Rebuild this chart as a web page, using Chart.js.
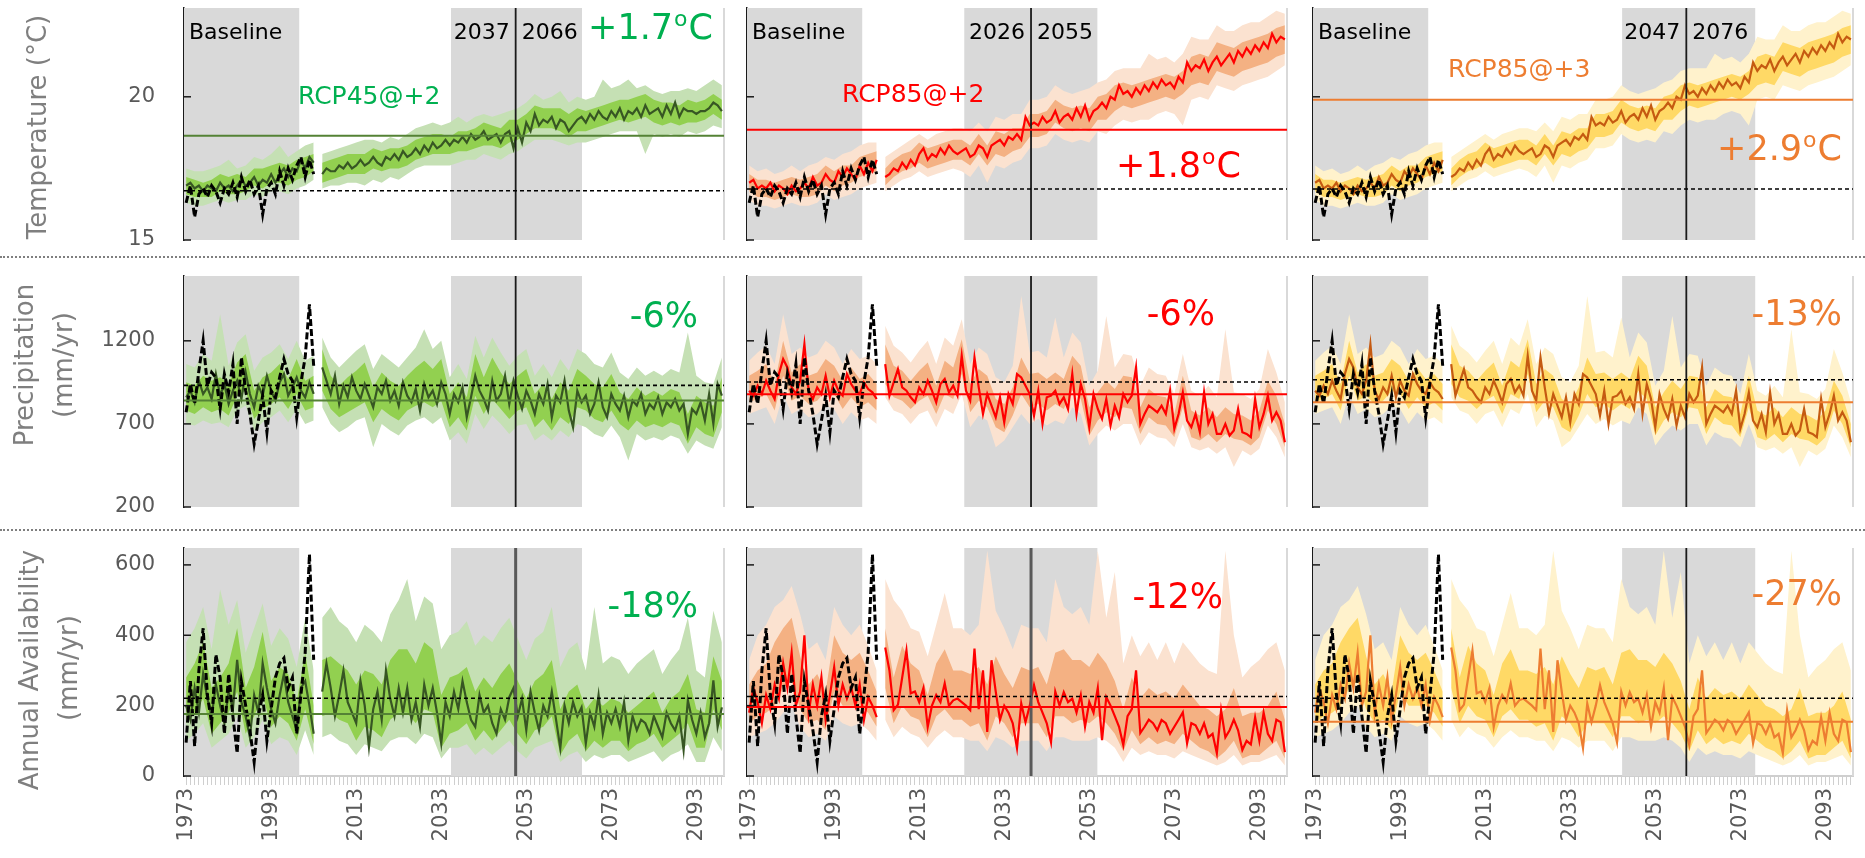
<!DOCTYPE html>
<html>
<head>
<meta charset="utf-8">
<script src="https://cdn.jsdelivr.net/npm/chart.js@4.4.1/dist/chart.umd.min.js"></script>
<style>
  body { margin: 0; background: #fff; }
  #page { position: relative; width: 1865px; height: 858px; overflow: hidden; background: #fff; }
  #page canvas { position: absolute; }
  .sep { position: absolute; left: 0; width: 1865px; height: 0; border-top: 2px dotted #7f7f7f; }
</style>
</head>
<body>
<div id="page">
  <div class="sep" style="top:256px"></div>
  <div class="sep" style="top:529px"></div>
</div>
<script>
// --- Years ---
function range(a, b, step) {
    let out = [];
    for (let v = a; v <= b; v += step) out.push(v);
    return out;
}
const obsYears = range(1973, 2003, 1);
const modelYears = range(1973, 2003, 1).concat(range(2005, 2099, 1));
const bandYears = range(1973, 2099, 2);
const axisYears = range(1973, 2099, 1);
const labelYears = [1973, 1993, 2013, 2033, 2053, 2073, 2093];

// --- Tick labels ---
const tmpTicks = [15, 20];
const prcTicks = [200, 700, 1200];
const avlTicks = [0, 200, 400, 600];

// --- Temperature (oC) ---
const tmpObs = [16.3,16.9,15.8,16.6,16.8,16.5,16.9,16.7,16.3,16.8,16.6,17.0,16.5,17.2,16.7,17.1,16.6,16.9,15.9,16.8,17.0,16.6,17.4,16.9,17.5,17.1,17.6,17.9,17.2,17.8,17.3];
const tmp45Med = [16.9,17.0,16.8,16.9,16.7,16.9,16.8,16.7,17.0,16.8,16.9,16.7,16.9,17.1,16.9,17.0,17.2,16.9,17.1,17.0,17.3,17.0,17.3,17.5,17.2,17.5,17.4,17.8,17.5,17.9,17.7,
    17.3,17.5,17.4,17.4,17.6,17.5,17.7,17.5,17.6,17.8, 17.6,17.7,17.9,17.7,17.6,17.9,17.8,18.0,17.8,18.1,
    17.9,18.0,18.2,18.0,18.3,18.1,18.4,18.2,18.3,18.5, 18.3,18.5,18.4,18.6,18.4,18.7,18.5,18.6,18.8,18.5,
    18.6,18.7,18.4,18.7,18.8,18.2,18.9,18.4,19.1,18.8, 19.4,19.0,19.2,19.1,19.3,18.9,19.2,19.1,18.8,19.0,
    19.2,19.3,19.1,19.4,19.2,19.5,19.3,19.2,19.5,19.3, 19.6,19.2,19.5,19.4,19.6,19.3,19.7,19.4,19.5,19.6,
    19.3,19.7,19.4,19.8,19.3,19.6,19.5,19.5,19.4,19.5, 19.5,19.6,19.8,19.7,19.5];
const tmp45InLo = [16.6,16.5,16.5,16.5,16.7,16.6,16.6,16.7,16.9,16.8,17.0,17.0,16.9,17.1,17.2,17.4,
    17.0,17.1,17.2,17.3,17.3,17.3,17.5,17.4,17.5,17.5,17.6,17.8,17.9,18.0,18.0,18.0,18.1,18.1,18.2,18.3,18.3,18.2,18.4,18.5,
    18.7,18.9,18.9,18.9,18.8,18.6,18.8,18.8,18.9,19.0,19.1,19.2,19.1,19.2,19.3,19.1,19.0,19.1,19.0,19.1,19.1,19.2,19.4,19.2];
const tmp45InHi = [17.2,17.1,17.0,17.1,17.3,17.2,17.3,17.2,17.5,17.5,17.6,17.7,17.6,17.8,17.9,18.0,
    17.7,17.8,17.9,18.0,18.0,18.0,18.2,18.1,18.2,18.2,18.3,18.5,18.6,18.7,18.7,18.6,18.8,18.8,18.9,19.1,19.0,18.9,19.2,19.2,
    19.4,19.7,19.6,19.6,19.6,19.4,19.6,19.5,19.6,19.7,19.8,19.9,19.9,20.0,20.1,19.9,19.8,19.8,19.7,19.9,19.8,19.9,20.1,19.9];
const tmp45OutLo = [16.3,16.2,16.2,16.3,16.4,16.3,16.4,16.4,16.6,16.5,16.7,16.7,16.6,16.8,16.9,17.1,
    16.8,16.9,16.9,17.0,17.0,16.9,17.1,17.0,17.2,17.1,17.3,17.5,17.6,17.6,17.6,17.6,17.7,17.8,17.8,18.0,17.9,17.8,18.0,18.1,
    18.3,18.5,18.5,18.5,18.4,18.3,18.4,18.4,18.5,18.6,18.7,18.8,18.8,18.8,18.0,18.7,18.6,18.7,18.6,18.8,18.7,18.8,19.0,18.9];
const tmp45OutHi = [17.5,17.4,17.4,17.5,17.6,17.8,17.5,17.6,17.9,17.8,18.0,18.3,17.9,18.1,18.3,18.4,
    18.0,18.1,18.2,18.3,18.4,18.5,18.5,18.4,18.6,18.5,18.7,18.9,19.0,19.1,19.0,19.1,19.3,19.1,19.3,19.4,19.3,19.4,19.5,19.6,
    19.8,20.1,19.9,20.0,20.2,19.8,20.0,19.9,20.0,20.6,20.3,20.4,20.6,20.3,20.4,20.2,20.1,20.2,20.2,20.3,20.2,20.4,20.6,20.4];
const tmp85Med = [17.0,17.1,16.8,16.9,16.8,17.0,16.7,16.9,16.8,16.6,16.9,16.7,16.8,17.0,16.8,17.2,16.9,17.0,17.3,17.1,17.0,17.4,17.2,17.5,17.3,17.1,17.6,17.3,17.7,17.4,17.8,
    17.2,17.3,17.5,17.4,17.7,17.5,17.8,17.6,18.0,18.2, 17.8,18.0,17.9,18.2,18.0,18.3,18.1,18.0,18.1,18.2,
    17.9,18.0,18.3,18.2,17.9,18.3,18.4,18.5,18.3,18.6, 18.5,18.7,18.5,19.3,19.0,19.1,19.0,19.3,19.1,19.2,
    19.5,19.1,19.3,19.4,19.2,19.6,19.3,19.7,19.2,19.5, 19.6,19.8,19.6,20.0,19.9,20.4,20.1,20.2,20.0,20.3,
    20.1,20.4,20.2,20.5,20.3,20.6,20.4,20.5,20.3,20.7, 20.5,21.2,20.9,21.1,21.0,21.3,20.9,21.2,21.4,21.1,
    21.3,21.5,21.2,21.6,21.4,21.7,21.5,21.8,21.6,21.9, 21.7,22.2,21.9,22.1,22.0];
const tmp85InLo = [16.7,16.5,16.5,16.4,16.5,16.6,16.5,16.5,16.6,16.9,16.7,16.9,17.0,17.2,17.3,17.4,
    16.9,17.2,17.4,17.5,17.7,17.5,17.6,17.7,17.8,17.8,17.6,18.0,17.6,18.0,17.9,18.1,18.2,18.6,18.6,18.7,19.1,18.9,18.8,18.9,
    18.8,19.2,19.2,19.5,19.7,19.6,19.7,19.8,19.9,20.0,19.9,20.1,20.4,20.5,20.4,20.9,20.8,20.7,20.9,21.0,21.1,21.2,21.4,21.5];
const tmp85InHi = [17.3,17.1,17.1,17.0,17.1,17.2,17.1,17.2,17.3,17.6,17.4,17.6,17.6,17.9,18.0,18.1,
    17.5,17.8,18.0,18.1,18.4,18.2,18.3,18.4,18.5,18.5,18.3,18.7,18.3,18.8,18.7,18.9,18.9,19.4,19.4,19.5,19.9,19.7,19.6,19.7,
    19.6,20.0,20.1,20.4,20.5,20.4,20.5,20.6,20.7,20.8,20.7,20.9,21.4,21.5,21.4,21.9,21.8,21.7,21.9,22.0,22.1,22.2,22.4,22.5];
const tmp85OutLo = [16.4,16.2,16.2,16.1,16.2,16.3,16.2,16.2,16.3,16.6,16.4,16.5,16.6,16.8,16.9,17.0,
    16.7,16.9,17.1,17.2,17.4,17.2,17.3,17.4,17.5,17.4,17.2,17.6,17.0,17.6,17.5,17.7,17.8,18.2,18.2,18.3,18.7,18.5,18.4,18.5,
    18.4,18.8,18.7,19.0,19.2,19.1,19.2,19.2,19.4,19.5,19.4,19.0,19.9,20.0,19.9,20.4,20.3,20.2,20.4,20.5,20.6,20.7,20.9,21.1];
const tmp85OutHi = [17.6,17.4,17.5,17.3,17.4,17.6,17.4,17.6,17.7,17.9,17.8,18.0,18.1,18.3,18.4,18.4,
    17.9,18.1,18.3,18.5,18.7,18.5,18.7,18.8,18.9,18.9,18.8,19.1,18.8,19.3,19.2,19.4,19.4,19.9,19.9,20.0,20.4,20.2,20.1,20.2,
    20.3,20.5,20.6,20.9,21.0,21.0,21.0,21.5,21.3,21.4,21.2,21.5,22.1,22.0,22.0,22.5,22.3,22.3,22.5,22.6,22.6,22.8,23.0,22.9];

// --- Precipitation (mm/yr) ---
const prcObs = [770,940,820,1020,1200,930,1010,980,790,1000,890,1060,700,1100,900,760,580,720,870,650,900,860,980,1090,1000,960,740,950,1100,1420,1050];
const prc45Med = [860,900,830,960,880,920,850,1000,870,940,820,900,960,850,1010,880,800,930,870,990,900,840,950,1000,870,920,980,900,860,950,880,
    1040,960,880,990,820,930,860,980,900,850, 940,870,800,920,880,960,840,900,810,950,
    870,830,910,780,940,860,900,820,950,880, 760,880,830,920,740,860,990,900,850,780,
    960,840,880,990,820,960,870,790,900,840, 760,880,820,940,740,870,830,960,780,680,
    900,830,870,760,820,950,800,740,880,820, 780,870,740,840,810,880,760,820,790,860,
    760,830,800,850,780,820,640,790,760,830, 720,880,700,940,870];
const prc45InLo = [780,760,800,770,790,750,870,900,730,790,820,860,790,880,780,800,
    900,790,740,770,800,830,710,790,750,720,780,810,830,800,840,680,740,660,870,760,850,790,730,780,
    800,680,730,660,740,700,800,780,730,710,780,700,660,720,680,700,680,710,690,580,680,640,620,770];
const prc45InHi = [950,930,990,960,980,940,1070,1120,900,980,1010,1060,970,1090,960,990,
    1150,990,930,980,1020,1070,920,1010,960,930,990,1040,1080,1030,1090,880,950,860,1120,980,1100,1010,940,990,
    1030,880,940,850,950,900,1030,990,940,920,1000,890,850,920,870,900,870,910,890,760,870,830,810,980];
const prc45OutLo = [700,690,720,700,710,680,780,810,660,710,740,780,710,790,700,720,
    800,700,650,680,720,740,560,700,660,630,690,720,740,700,740,600,650,580,760,670,750,700,640,690,
    700,600,640,600,660,620,700,680,640,620,690,620,480,640,600,620,600,630,610,520,600,570,550,680];
const prc45OutHi = [1060,1040,1120,1080,1360,1050,1190,1240,1020,1100,1130,1180,1090,1200,1080,1110,
    1220,1100,1040,1090,1140,1180,1030,1120,1080,1040,1100,1160,1270,1150,1200,980,1060,970,1230,1100,1220,1130,1050,1110,
    1150,990,1060,980,1090,1020,1150,1120,1060,1040,1130,1010,970,1040,990,1020,990,1030,1010,1250,990,950,940,1100];
const prc85Med = [900,870,930,880,960,900,850,1000,1090,1040,920,880,960,1180,900,850,920,880,990,860,960,900,870,1000,940,900,880,950,910,890,850,
    1060,870,950,1030,920,900,860,830,920,880, 960,900,830,940,970,890,930,870,1110,900,
    840,1100,920,760,880,810,740,860,710,880, 820,1000,980,930,880,750,900,700,860,870,
    900,820,860,790,1000,760,940,850,680,880, 790,730,850,690,810,740,880,830,870,1040,
    700,760,810,790,770,810,760,900,670,760, 890,720,680,760,650,890,700,760,640,640,
    700,630,660,790,650,640,620,850,680,760, 870,720,770,720,590];
const prc85InLo = [830,850,880,780,990,840,870,820,840,900,880,790,860,800,830,780,
    940,860,840,790,840,870,760,880,850,1000,770,840,800,680,650,750,880,800,820,780,820,790,900,850,
    630,720,770,740,800,790,640,740,700,690,620,800,620,600,640,590,640,610,600,570,620,780,700,560];
const prc85InHi = [990,1020,1060,940,1200,1010,1060,990,1010,1090,1050,960,1040,970,1000,940,
    1180,1050,1020,960,1020,1070,930,1080,1040,1210,940,1030,990,850,820,920,1100,1000,1010,970,1010,970,1110,1050,
    800,890,960,910,990,980,800,910,870,860,760,990,780,750,800,740,800,760,750,720,780,960,870,700];
const prc85OutLo = [760,780,800,700,880,760,790,740,760,810,790,700,770,720,740,700,
    860,780,760,700,760,780,680,790,760,880,680,750,720,560,600,680,760,700,730,690,720,700,800,760,
    570,640,690,660,700,700,570,650,620,610,560,700,560,540,560,520,560,440,540,510,550,690,620,500];
const prc85OutHi = [1080,1130,1170,1060,1360,1120,1160,1100,1120,1200,1160,1060,1150,1090,1110,1060,
    1290,1170,1130,1070,1140,1200,1060,1220,1170,1330,1060,1160,1120,980,950,1050,1470,1130,1140,1100,1340,1100,1250,1190,
    930,1020,1350,1040,1120,1110,930,1040,1000,990,880,1120,900,870,930,860,1270,890,880,850,910,1150,1010,830];

// --- Annual availability (mm/yr) ---
const avlObs = [95,270,85,300,420,230,150,345,280,120,290,170,65,270,200,130,40,170,230,100,190,280,320,335,250,280,120,230,350,630,330];
const avl45Med = [200,160,250,180,290,220,170,260,200,150,240,190,330,210,170,110,230,180,320,250,190,150,230,290,210,170,130,250,270,200,120,
    240,320,250,170,230,300,210,180,150,270, 200,82,190,240,160,300,220,170,250,180,
    250,160,210,140,260,200,250,180,93,210, 170,240,190,270,210,160,140,230,180,200,
    150,120,190,160,224,250,170,220,130,240, 180,130,200,170,240,160,79,200,150,210,
    170,195,92,180,140,230,120,180,150,190, 140,210,100,170,130,160,150,120,170,140,
    110,180,150,130,170,73,215,160,120,180, 110,150,272,140,195];
const avl45InLo = [150,180,220,120,150,180,240,120,170,230,140,170,150,100,190,90,
    170,180,160,150,100,140,130,110,160,180,180,150,190,180,80,120,130,150,100,130,100,130,160,120,
    90,130,140,170,60,100,120,70,100,80,100,100,70,90,100,120,80,100,120,150,80,80,190,130];
const avl45InHi = [280,320,380,250,280,320,420,250,310,410,270,310,290,210,350,200,
    330,340,320,300,260,300,290,260,330,360,360,320,380,360,230,280,290,310,240,280,250,290,320,270,
    220,270,290,330,190,240,260,190,220,200,220,210,180,200,220,240,180,220,240,290,190,180,340,270];
const avl45OutLo = [100,120,150,80,100,120,170,80,110,160,90,110,100,60,130,60,
    110,120,100,90,60,90,80,70,100,110,110,90,120,110,50,80,80,90,60,80,60,80,100,70,
    50,80,90,100,40,60,70,40,60,50,60,60,40,50,60,70,40,60,70,90,40,40,110,70];
const avl45OutHi = [380,420,480,360,530,430,500,350,420,490,370,420,390,310,450,300,
    450,480,440,420,380,430,410,380,460,500,560,440,510,490,360,400,410,440,370,400,380,420,450,390,
    330,390,410,480,310,360,380,300,480,320,340,330,290,320,340,360,290,330,360,450,300,280,470,380];
const avl85Med = [180,250,210,150,230,190,260,220,320,250,350,200,240,400,178,260,200,281,159,230,309,200,260,220,252,200,260,159,224,200,167,
    365,300,187,203,280,357,235,240,210,250, 139,200,230,210,263,200,215,220,210,200,
    187,362,190,300,125,329,240,160,200,180, 150,79,206,153,200,258,210,180,150,96,
    240,200,238,210,220,180,230,140,210,180, 250,102,224,200,170,140,88,170,190,300,
    122,140,160,150,130,159,150,120,140,160, 181,93,150,144,120,150,110,120,65,187,
    110,130,160,130,74,100,90,167,100,180, 120,100,160,153,68];
const avl85InLo = [150,170,180,200,250,270,190,150,160,130,240,200,200,200,180,140,
    250,150,200,170,160,110,170,190,160,160,140,150,100,170,150,110,150,150,150,110,170,170,150,160,
    150,170,150,120,70,130,90,110,90,100,90,120,100,80,70,50,70,100,50,60,60,80,100,50];
const avl85InHi = [260,300,320,380,420,450,340,260,290,240,400,350,330,350,300,240,
    420,280,370,320,300,230,320,360,300,300,290,310,260,340,290,250,310,300,310,260,350,360,330,330,
    310,350,320,270,190,280,220,250,230,240,220,260,230,200,190,170,190,250,170,180,180,200,240,160];
const avl85OutLo = [110,120,130,150,180,200,140,110,120,100,170,150,140,150,130,100,
    160,110,140,120,110,80,110,130,110,110,100,100,70,110,100,80,100,100,100,70,110,110,100,100,
    100,110,100,80,40,80,60,70,60,60,50,70,60,50,40,30,40,60,30,40,40,50,60,30];
const avl85OutHi = [330,400,430,480,500,540,460,360,380,330,480,430,400,430,370,300,
    560,500,470,420,410,340,430,520,420,420,400,430,640,470,420,360,430,420,420,380,560,480,460,480,
    430,640,450,580,320,400,340,380,330,380,320,380,350,320,300,290,640,400,280,310,330,360,380,300];

// --- Reference levels, windows and labels ---
const tmpBaseline = [16.72, 16.78, 16.78];
const tmpTarget = [18.64, 18.85, 19.9];
const prcBaseline = [932, 952, 966];
const prcTarget = [841, 878, 831];
const avlBaseline = [221, 226, 221];
const avlTarget = [176, 196, 154];
const baselineBox = [1972.5, 1999.6];
const winStart = [2035.3, 2023.6, 2045.2];
const winEnd = [2066.1, 2054.9, 2076.5];
const winMid = [2050.5, 2039.3, 2060.3];
const winLabels = [['2037', '2066'], ['2026', '2055'], ['2047', '2076']];
const scenarioNames = ['RCP45@+2', 'RCP85@+2', 'RCP85@+3'];
const tmpChange = ['+1.7', '+1.8', '+2.9'];
const prcChange = ['-6%', '-6%', '-13%'];
const avlChange = ['-18%', '-12%', '-27%'];

// --- Layout and styles ---
const FONT = '"DejaVu Sans"';
const rowTop = [8, 276, 548], rowBottom = [240, 507, 776];
const colLeft = [184, 747, 1313], colRight = [724, 1287, 1853];
const innerCol = ['#92d050', '#f4b183', '#ffd966'];
const outerCol = ['#c5e0b4', '#fbe2d0', '#fff2cc'];
const medCol = [['#375623', '#ff0000', '#c55a11'], ['#375623', '#ff0000', '#c55a11'], ['#375623', '#ff0000', '#ed7d31']];
const lineCol = ['#548235', '#ff0000', '#ed7d31'];
const textCol = ['#00b050', '#ff0000', '#ed7d31'];

const rows = [
    { ticks: tmpTicks, min: 15, max: 23.1, obs: tmpObs, base: tmpBaseline, target: tmpTarget,
      s45: [tmp45Med, tmp45InLo, tmp45InHi, tmp45OutLo, tmp45OutHi],
      s85: [tmp85Med, tmp85InLo, tmp85InHi, tmp85OutLo, tmp85OutHi] },
    { ticks: prcTicks, min: 200, max: 1590, obs: prcObs, base: prcBaseline, target: prcTarget,
      s45: [prc45Med, prc45InLo, prc45InHi, prc45OutLo, prc45OutHi],
      s85: [prc85Med, prc85InLo, prc85InHi, prc85OutLo, prc85OutHi] },
    { ticks: avlTicks, min: 0, max: 648, obs: avlObs, base: avlBaseline, target: avlTarget,
      s45: [avl45Med, avl45InLo, avl45InHi, avl45OutLo, avl45OutHi],
      s85: [avl85Med, avl85InLo, avl85InHi, avl85OutLo, avl85OutHi] }
];

// annotation spots in page pixels (text anchor / baseline)
const changeSpots = [
    [[713, 39], [1241, 177], [1842, 160]],
    [[698, 327], [1215, 325], [1842, 325]],
    [[698, 617], [1223, 608], [1842, 605]]
];
const scenarioSpots = [[298, 104], [842, 102], [1448, 77]];

// --- Helpers ---
function points(xs, ys) {
    return xs.map((x, i) => ({ x: x, y: ys[i] })).filter(p => p.y !== undefined);
}
function splitRuns(xs, ys) {
    const pts = points(xs, ys);
    return [pts.filter(p => p.x <= 2003), pts.filter(p => p.x >= 2005)];
}
function strokeLine(ctx, x0, y0, x1, y1) {
    ctx.beginPath(); ctx.moveTo(x0, y0); ctx.lineTo(x1, y1); ctx.stroke();
}
// right-aligned text like "+1.7oC" with a raised small "o"
function degreeText(ctx, main, xRight, yBase, size, color) {
    ctx.fillStyle = color;
    ctx.textAlign = 'left';
    ctx.textBaseline = 'alphabetic';
    ctx.font = size + 'px ' + FONT;
    const wMain = ctx.measureText(main).width;
    const wC = ctx.measureText('C').width;
    const small = Math.round(size * 0.62);
    ctx.font = small + 'px ' + FONT;
    const wO = ctx.measureText('o').width;
    let x = xRight - wMain - wO - wC - 2;
    ctx.font = size + 'px ' + FONT;
    ctx.fillText(main, x, yBase);
    ctx.font = small + 'px ' + FONT;
    ctx.fillText('o', x + wMain + 1, yBase - size * 0.38);
    ctx.font = size + 'px ' + FONT;
    ctx.fillText('C', x + wMain + wO + 2, yBase);
}
function rotatedText(ctx, text, cx, cy, size, color) {
    ctx.save();
    ctx.translate(cx, cy);
    ctx.rotate(-Math.PI / 2);
    ctx.fillStyle = color;
    ctx.font = size + 'px ' + FONT;
    ctx.textAlign = 'center';
    ctx.textBaseline = 'middle';
    ctx.fillText(text, 0, 0);
    ctx.restore();
}

// --- Decorations: boxes, reference lines, labels ---
function decorPlugin(r, c, offX, offY) {
    return {
        id: 'decor' + r + c,
        beforeDatasetsDraw(chart) {
            const ctx = chart.ctx, a = chart.chartArea, x = chart.scales.x;
            ctx.save();
            ctx.fillStyle = '#d9d9d9';
            [[baselineBox[0], baselineBox[1]], [winStart[c], winEnd[c]]].forEach(b => {
                const x0 = x.getPixelForValue(b[0]), x1 = x.getPixelForValue(b[1]);
                ctx.fillRect(x0, a.top, x1 - x0, a.bottom - a.top);
            });
            ctx.strokeStyle = '#d9d9d9';
            ctx.lineWidth = 2;
            strokeLine(ctx, a.right, a.top, a.right, a.bottom);
            ctx.restore();
        },
        afterDatasetsDraw(chart) {
            const ctx = chart.ctx, a = chart.chartArea, x = chart.scales.x, y = chart.scales.y;
            ctx.save();
            const xm = x.getPixelForValue(winMid[c]);
            ctx.strokeStyle = (r === 2 && c < 2) ? '#595959' : '#1a1a1a';
            ctx.lineWidth = (r === 2 && c < 2) ? 3 : 1.8;
            strokeLine(ctx, xm, a.top, xm, a.bottom);

            const yb = y.getPixelForValue(rows[r].base[c]);
            ctx.setLineDash([4, 3]);
            ctx.strokeStyle = '#000';
            ctx.lineWidth = 1.6;
            strokeLine(ctx, a.left, yb, a.right, yb);
            ctx.setLineDash([]);

            const yt = y.getPixelForValue(rows[r].target[c]);
            ctx.strokeStyle = lineCol[c];
            ctx.lineWidth = 2;
            strokeLine(ctx, a.left, yt, a.right, yt);

            // inward tick marks on the value axis
            ctx.strokeStyle = '#1a1a1a';
            ctx.lineWidth = 1.5;
            y.ticks.forEach(t => {
                const yy = y.getPixelForValue(t.value);
                strokeLine(ctx, a.left, yy, a.left + 7, yy);
            });
            ctx.restore();
        },
        afterDraw(chart) {
            const ctx = chart.ctx, a = chart.chartArea, x = chart.scales.x;
            ctx.save();
            if (r === 0) {
                ctx.fillStyle = '#000';
                ctx.textBaseline = 'alphabetic';
                ctx.font = '22px ' + FONT;
                ctx.textAlign = 'left';
                ctx.fillText('Baseline', a.left + 5, 39 - offY);
                const xm = x.getPixelForValue(winMid[c]);
                ctx.textAlign = 'right';
                ctx.fillText(winLabels[c][0], xm - 6, 39 - offY);
                ctx.textAlign = 'left';
                ctx.fillText(winLabels[c][1], xm + 6, 39 - offY);

                ctx.fillStyle = textCol[c];
                ctx.font = '25px ' + FONT;
                ctx.fillText(scenarioNames[c], scenarioSpots[c][0] - offX, scenarioSpots[c][1] - offY);
                degreeText(ctx, tmpChange[c], changeSpots[0][c][0] - offX, changeSpots[0][c][1] - offY, 35, textCol[c]);
            } else {
                const txt = r === 1 ? prcChange[c] : avlChange[c];
                ctx.fillStyle = textCol[c];
                ctx.font = '35px ' + FONT;
                ctx.textAlign = 'right';
                ctx.textBaseline = 'alphabetic';
                ctx.fillText(txt, changeSpots[r][c][0] - offX, changeSpots[r][c][1] - offY);
            }
            if (c === 0) {
                const grey = '#7f7f7f';
                if (r === 0) {
                    rotatedText(ctx, 'Temperature (°C)', 39, 127 - offY, 26, grey);
                } else if (r === 1) {
                    rotatedText(ctx, 'Precipitation', 26, 365 - offY, 26, grey);
                    rotatedText(ctx, '(mm/yr)', 65, 365 - offY, 26, grey);
                } else {
                    rotatedText(ctx, 'Annual Availability', 31, 670 - offY, 26, grey);
                    rotatedText(ctx, '(mm/yr)', 70, 668 - offY, 26, grey);
                }
            }
            ctx.restore();
        }
    };
}

// --- Build one panel ---
function buildPanel(r, c) {
    const row = rows[r];
    const s = c === 0 ? row.s45 : row.s85;
    const left = c === 0 ? 0 : colLeft[c] - 20;
    const top = rowTop[r] - 8;
    const width = colRight[c] + 6 - left;
    const height = rowBottom[r] + (r === 2 ? 82 : 8) - top;

    const canvas = document.createElement('canvas');
    canvas.width = width;
    canvas.height = height;
    canvas.style.left = left + 'px';
    canvas.style.top = top + 'px';
    canvas.style.width = width + 'px';
    canvas.style.height = height + 'px';
    document.getElementById('page').appendChild(canvas);

    const med = splitRuns(modelYears, s[0]);
    const inLo = splitRuns(bandYears, s[1]);
    const inHi = splitRuns(bandYears, s[2]);
    const outLo = splitRuns(bandYears, s[3]);
    const outHi = splitRuns(bandYears, s[4]);
    const clear = 'rgba(0,0,0,0)';

    let datasets = [];
    [0, 1].forEach(k => {
        datasets.push({ data: outHi[k], fill: '+1', backgroundColor: outerCol[c], borderColor: clear, borderWidth: 0, order: 5 });
        datasets.push({ data: outLo[k], fill: false, borderColor: clear, borderWidth: 0, order: 5 });
        datasets.push({ data: inHi[k], fill: '+1', backgroundColor: innerCol[c], borderColor: clear, borderWidth: 0, order: 4 });
        datasets.push({ data: inLo[k], fill: false, borderColor: clear, borderWidth: 0, order: 4 });
        datasets.push({ data: med[k], fill: false, borderColor: medCol[r][c], borderWidth: 2.2, order: 2 });
    });
    datasets.push({ data: points(obsYears, row.obs), fill: false, borderColor: '#000', borderWidth: 3, borderDash: [7, 3], order: 1 });

    new Chart(canvas.getContext('2d'), {
        type: 'line',
        data: { datasets: datasets },
        options: {
            responsive: false,
            animation: false,
            events: [],
            layout: { padding: { top: 8, right: 6, bottom: r === 2 ? 0 : 8, left: 0 } },
            elements: { point: { radius: 0 }, line: { tension: 0 } },
            plugins: { legend: { display: false }, tooltip: { enabled: false } },
            scales: {
                x: {
                    type: 'linear',
                    min: 1972.5,
                    max: 2099.5,
                    display: r === 2,
                    afterBuildTicks: sc => { sc.ticks = axisYears.map(v => ({ value: v })); },
                    afterFit: sc => { sc.height = r === 2 ? 82 : 0; sc.paddingLeft = 0; sc.paddingRight = 0; },
                    grid: { display: true, drawOnChartArea: false, drawTicks: true, tickLength: 9, color: '#cfcfcf', lineWidth: 1 },
                    border: { display: true, color: '#cfcfcf', width: 2 },
                    ticks: {
                        autoSkip: false, maxRotation: 90, minRotation: 90, padding: 3,
                        color: '#595959', font: { family: 'DejaVu Sans', size: 21 },
                        callback: v => labelYears.includes(v) ? String(v) : ''
                    }
                },
                y: {
                    type: 'linear',
                    min: row.min,
                    max: row.max,
                    afterBuildTicks: sc => { sc.ticks = row.ticks.map(v => ({ value: v })); },
                    afterFit: sc => { sc.width = colLeft[c] - left; sc.paddingTop = 0; sc.paddingBottom = 0; },
                    grid: { display: false, drawTicks: false },
                    border: { display: true, color: '#1a1a1a', width: 1.5 },
                    ticks: {
                        display: c === 0, padding: 29, color: '#595959',
                        font: { family: 'DejaVu Sans', size: 21 },
                        callback: v => String(v)
                    }
                }
            }
        },
        plugins: [decorPlugin(r, c, left, top)]
    });
}

// --- Initial Load ---
for (let r = 0; r < 3; r++) {
    for (let c = 0; c < 3; c++) buildPanel(r, c);
}
</script>
</body>
</html>
